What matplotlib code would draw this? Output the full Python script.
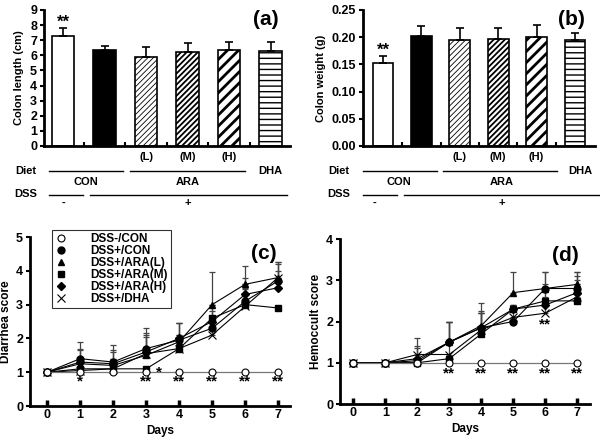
import numpy as np
import matplotlib.pyplot as plt
from matplotlib.transforms import blended_transform_factory
from matplotlib.lines import Line2D

plt.rcParams['font.family'] = ['Liberation Sans', 'DejaVu Sans']
plt.rcParams['font.weight'] = 'bold'
plt.rcParams['axes.labelweight'] = 'bold'

# bar data (a), (b)
groups = ['DSS-/CON', 'DSS+/CON', 'ARA(L)', 'ARA(M)', 'ARA(H)', 'DHA']
length = [7.3, 6.35, 5.9, 6.25, 6.35, 6.3]
length_err = [0.5, 0.25, 0.65, 0.55, 0.5, 0.55]
weight = [0.152, 0.202, 0.195, 0.196, 0.200, 0.195]
weight_err = [0.014, 0.018, 0.022, 0.021, 0.022, 0.012]

# time course data (c), (d)
days = [0, 1, 2, 3, 4, 5, 6, 7]
series = ['DSS-/CON', 'DSS+/CON', 'DSS+/ARA(L)', 'DSS+/ARA(M)', 'DSS+/ARA(H)', 'DSS+/DHA']
diarrhea = {
    'DSS-/CON':    [1, 1, 1, 1, 1, 1, 1, 1],
    'DSS+/CON':    [1, 1.4, 1.3, 1.7, 1.95, 2.3, 3.1, 3.7],
    'DSS+/ARA(L)': [1, 1.25, 1.2, 1.5, 1.9, 3.0, 3.6, 3.8],
    'DSS+/ARA(M)': [1, 1.1, 1.1, 1.1, 1.7, 2.6, 3.0, 2.9],
    'DSS+/ARA(H)': [1, 1.3, 1.25, 1.6, 2.0, 2.5, 3.3, 3.5],
    'DSS+/DHA':    [1, 1.05, 1.1, 1.55, 1.7, 2.1, 2.95, 3.8],
}
diarrhea_err = {
    'DSS-/CON':    [0, 0, 0, 0, 0, 0, 0, 0],
    'DSS+/CON':    [0, 0.5, 0.5, 0.6, 0.5, 0.5, 0.5, 0.55],
    'DSS+/ARA(L)': [0, 0.4, 0.4, 0.6, 0.55, 0.95, 0.55, 0.45],
    'DSS+/ARA(M)': [0, 0.3, 0.3, 0.0, 0.4, 0.4, 0.5, 0.0],
    'DSS+/ARA(H)': [0, 0.4, 0.4, 0.55, 0.45, 0.5, 0.5, 0.5],
    'DSS+/DHA':    [0, 0.3, 0.3, 0.5, 0.4, 0.4, 0.5, 0.4],
}
hemoccult = {
    'DSS-/CON':    [1, 1, 1, 1, 1, 1, 1, 1],
    'DSS+/CON':    [1, 1, 1.0, 1.5, 1.85, 2.0, 2.8, 2.8],
    'DSS+/ARA(L)': [1, 1, 1.05, 1.5, 1.9, 2.7, 2.8, 2.9],
    'DSS+/ARA(M)': [1, 1, 1.0, 1.1, 1.7, 2.3, 2.5, 2.5],
    'DSS+/ARA(H)': [1, 1, 1.1, 1.5, 1.85, 2.3, 2.4, 2.7],
    'DSS+/DHA':    [1, 1, 1.2, 1.2, 1.8, 2.1, 2.2, 2.6],
}
hemoccult_err = {
    'DSS-/CON':    [0, 0, 0, 0, 0, 0, 0, 0],
    'DSS+/CON':    [0, 0, 0, 0.5, 0.4, 0, 0.4, 0.4],
    'DSS+/ARA(L)': [0, 0, 0.3, 0.5, 0.55, 0.5, 0.4, 0.3],
    'DSS+/ARA(M)': [0, 0, 0, 0, 0.5, 0.1, 0.4, 0.4],
    'DSS+/ARA(H)': [0, 0, 0.3, 0.5, 0.35, 0.1, 0.4, 0.4],
    'DSS+/DHA':    [0, 0, 0.4, 0.8, 0.4, 0.3, 0.4, 0.4],
}
markers = {'DSS-/CON': 'o', 'DSS+/CON': 'o', 'DSS+/ARA(L)': '^',
           'DSS+/ARA(M)': 's', 'DSS+/ARA(H)': 'D', 'DSS+/DHA': 'x'}

W, H = 600, 444
fig = plt.figure(figsize=(6, 4.44), dpi=100)


def px(x0, y0, x1, y1):
    return [x0 / W, 1 - y1 / H, (x1 - x0) / W, (y1 - y0) / H]


def style_axes(ax):
    for s in ['top', 'right']:
        ax.spines[s].set_visible(False)
    for s in ['left', 'bottom']:
        ax.spines[s].set_linewidth(2)
    ax.tick_params(labelsize=9, width=1.5, length=3, pad=2)
    for t in ax.get_xticklabels() + ax.get_yticklabels():
        t.set_fontweight('bold')


# ---- bar panels ----
hatches = ['', '', '//////', '//////', '///', '---']
hatch_lw = [1, 1, 0.6, 1.3, 2.0, 1.0]
faces = ['white', 'black', 'white', 'white', 'white', 'white']


def bar_panel(ax, vals, errs, ylabel, ylim, yticks, fmt, label, star_y):
    x = np.arange(len(vals))
    for i in range(len(vals)):
        with plt.rc_context({'hatch.linewidth': hatch_lw[i]}):
            ax.bar(x[i], vals[i], width=0.54, color=faces[i], edgecolor='black',
                   linewidth=1.2, hatch=hatches[i], zorder=2)
    ax.errorbar(x, vals, yerr=[np.zeros(len(vals)), errs], fmt='none',
                ecolor='black', elinewidth=1.2, capsize=3, capthick=1.2, zorder=3)
    ax.set_ylim(*ylim)
    ax.set_yticks(yticks)
    ax.set_yticklabels([fmt.format(v) for v in yticks])
    ax.set_xticks(x[:-1] + 0.5)
    ax.set_xticklabels([])
    ax.set_ylabel(ylabel, fontsize=8, labelpad=4)
    style_axes(ax)
    ax.tick_params(axis='x', direction='in', length=3, width=1.5)
    ax.text(0, star_y, '**', ha='center', va='center', fontsize=12, fontweight='bold')
    ax.text(0.9, 0.93, label, transform=ax.transAxes, ha='center', va='center',
            fontsize=15, fontweight='bold')


ax_a = fig.add_axes(px(44, 10, 290, 146))
bar_panel(ax_a, length, length_err, 'Colon length (cm)', (0, 9), range(0, 10), '{:d}',
          '(a)', 8.2)
ax_a.set_xlim(-0.46, 5.47)

ax_b = fig.add_axes(px(363, 10, 595, 146))
bar_panel(ax_b, weight, weight_err, 'Colon weight (g)', (0, 0.25),
          [0, 0.05, 0.10, 0.15, 0.20, 0.25], '{:.2f}', '(b)', 0.176)
ax_b.set_xlim(-0.52, 5.52)


def diet_rows(ax, diet_x, con_line, ara_line, minus_line, plus_line, con_x, ara_x, dha_x,
              minus_x, plus_x):
    tr = blended_transform_factory(ax.transData, fig.transFigure)
    fy = lambda p: 1 - p / H
    kw = dict(transform=tr, ha='center', va='center', fontsize=8, fontweight='bold',
              clip_on=False)
    for i, s in zip([2, 3, 4], ['(L)', '(M)', '(H)']):
        ax.text(i, fy(157), s, **kw)
    ax.text(diet_x, fy(171), 'Diet', **kw)
    ax.text(dha_x, fy(171), 'DHA', **kw)
    ax.text(con_x, fy(182), 'CON', **kw)
    ax.text(ara_x, fy(182), 'ARA', **kw)
    ax.text(diet_x, fy(194), 'DSS', **kw)
    ax.text(minus_x, fy(203), '-', **kw)
    ax.text(plus_x, fy(203), '+', **kw)
    for (a, b), yy in [(con_line, 171), (ara_line, 171), (minus_line, 195), (plus_line, 195)]:
        ax.add_line(Line2D([a, b], [fy(yy), fy(yy)], transform=tr, color='black',
                           linewidth=1, clip_on=False))


diet_rows(ax_a, -0.9, (-0.34, 1.45), (1.61, 4.39), (-0.34, 0.48), (0.65, 5.4),
          0.55, 3.0, 5.0, 0.0, 3.0)
diet_rows(ax_b, -1.15, (-0.52, 1.41), (1.56, 4.53), (-0.52, 0.36), (0.55, 5.65),
          0.42, 3.1, 5.13, -0.23, 3.1)


# ---- time course panels ----
def line_panel(ax, data, errs, ylabel, ymax, label):
    for name in series[1:]:
        ax.errorbar(days, data[name], yerr=[np.zeros(8), errs[name]], fmt='none',
                    ecolor='#444444', elinewidth=0.9, capsize=2.5, capthick=0.9, zorder=2)
    for name in series:
        y = data[name]
        if name == 'DSS-/CON':
            ax.plot(days, y, color='#777777', linewidth=0.9, marker='o', markersize=5,
                    markerfacecolor='white', markeredgecolor='black', markeredgewidth=0.8,
                    label=name, zorder=4)
        elif markers[name] == 'x':
            ax.plot(days, y, color='black', linewidth=0.8, marker='x', markersize=5.5,
                    markeredgewidth=0.8, label=name, zorder=3)
        else:
            ms = 4.5 if markers[name] == 'D' else 5
            ax.plot(days, y, color='black', linewidth=0.8, marker=markers[name],
                    markersize=ms, label=name, zorder=3)
    ax.set_ylim(0, ymax)
    ax.set_yticks(range(0, ymax + 1))
    ax.set_xticks(days)
    ax.set_ylabel(ylabel, fontsize=8.5, labelpad=3)
    ax.set_xlabel('Days', fontsize=8.5, labelpad=3)
    style_axes(ax)
    ax.tick_params(axis='x', direction='in', length=4, width=2.5)
    ax.text(0.9, 0.9, label, transform=ax.transAxes, ha='center', va='center',
            fontsize=15, fontweight='bold')


ax_c = fig.add_axes(px(30, 237, 290, 406))
line_panel(ax_c, diarrhea, diarrhea_err, 'Diarrhea score', 5, '(c)')
ax_c.set_xlim(-0.52, 7.36)
for d, s in [(1, '*'), (3, '**'), (4, '**'), (5, '**'), (6, '**'), (7, '**')]:
    ax_c.text(d, 0.72, s, ha='center', va='center', fontsize=11, fontweight='bold')
ax_c.text(3.38, 0.98, '*', ha='center', va='center', fontsize=11, fontweight='bold')
leg = ax_c.legend(loc='upper left', bbox_to_anchor=(0.085, 1.04), frameon=True,
                  fancybox=False, edgecolor='black', fontsize=8.5, handlelength=1,
                  handletextpad=2.0, borderpad=0.25, labelspacing=0.0,
                  borderaxespad=0)
leg.get_frame().set_linewidth(0.8)
for h in leg.get_lines():
    h.set_linestyle('none')
for t in leg.get_texts():
    t.set_fontweight('bold')

ax_d = fig.add_axes(px(340, 239, 590, 404))
line_panel(ax_d, hemoccult, hemoccult_err, 'Hemoccult score', 4, '(d)')
ax_d.set_xlim(-0.42, 7.4)
for d in [3, 4, 5, 6, 7]:
    ax_d.text(d, 0.75, '**', ha='center', va='center', fontsize=11, fontweight='bold')
ax_d.text(6, 1.93, '**', ha='center', va='center', fontsize=11, fontweight='bold')

fig.savefig('out.png', dpi=100)
